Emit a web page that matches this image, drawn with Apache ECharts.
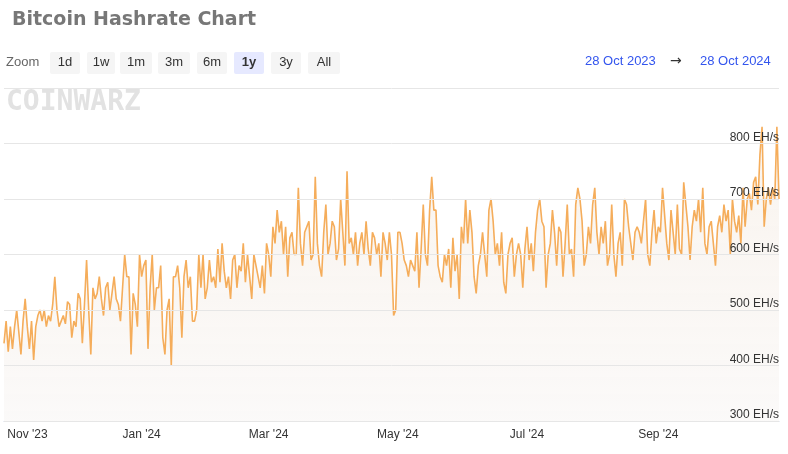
<!DOCTYPE html>
<html>
<head>
<meta charset="utf-8">
<script src="https://cdn.jsdelivr.net/npm/echarts@6/dist/echarts.min.js"></script>
<style>
  html, body { margin: 0; padding: 0; background: #fff; }
  #chart { width: 788px; height: 454px; }
</style>
</head>
<body>
<div id="chart"></div>
<script>
// daily hashrate, EH/s, from 28 Oct 2023
const oct23 = [440, 480, 425, 470];
const nov23 = [430, 470, 500, 460, 420, 480, 520, 470, 430, 480, 410, 470, 490, 500, 480, 500, 470, 490, 480, 510, 560, 500, 470, 480, 490, 475, 515, 510, 450, 480];
const dec23 = [470, 530, 520, 440, 510, 590, 500, 420, 540, 520, 530, 560, 520, 490, 540, 550, 500, 530, 560, 520, 510, 480, 540, 600, 560, 560, 420, 530, 510, 470, 600];
const jan24 = [560, 580, 590, 430, 540, 600, 500, 540, 540, 580, 450, 420, 500, 520, 400, 560, 560, 580, 540, 450, 560, 590, 540, 560, 480, 480, 500, 600, 540, 600, 520];
const feb24 = [540, 590, 550, 560, 540, 610, 550, 620, 570, 540, 560, 520, 590, 600, 540, 580, 570, 620, 550, 600, 560, 520, 600, 580, 560, 540, 580, 530, 620];
const mar24 = [600, 560, 650, 620, 680, 640, 660, 600, 650, 560, 630, 640, 600, 600, 720, 620, 580, 640, 650, 660, 590, 600, 740, 620, 580, 560, 640, 690, 600, 620, 660];
const apr24 = [650, 590, 610, 700, 640, 580, 750, 620, 630, 600, 640, 580, 620, 640, 600, 660, 610, 580, 640, 630, 600, 620, 560, 640, 620, 590, 640, 600, 490, 500];
const may24 = [640, 640, 620, 590, 580, 560, 590, 580, 570, 640, 540, 610, 690, 600, 580, 680, 740, 680, 680, 580, 560, 550, 600, 580, 610, 540, 630, 570, 600, 520, 650];
const jun24 = [620, 700, 620, 680, 640, 560, 530, 580, 600, 640, 600, 560, 680, 700, 660, 600, 620, 580, 640, 550, 530, 600, 620, 630, 560, 600, 620, 600, 540, 610];
const jul24 = [650, 590, 620, 570, 640, 680, 700, 660, 650, 540, 600, 620, 680, 640, 580, 650, 640, 560, 620, 690, 600, 610, 560, 690, 720, 700, 660, 580, 600, 650, 620];
const aug24 = [690, 720, 640, 600, 650, 620, 660, 580, 600, 690, 600, 560, 620, 640, 580, 700, 690, 650, 620, 590, 640, 650, 640, 620, 660, 700, 600, 580, 640, 680, 620];
const sep24 = [650, 640, 720, 670, 620, 590, 680, 640, 600, 690, 610, 600, 730, 690, 650, 590, 650, 680, 660, 700, 640, 720, 620, 600, 650, 660, 620, 580, 650, 670];
const oct24 = [640, 690, 660, 680, 600, 700, 660, 640, 670, 620, 720, 650, 700, 710, 680, 730, 740, 690, 780, 830, 650, 700, 720, 690, 720, 700, 830, 700];

const hashrate = [].concat(oct23, nov23, dec23, jan24, feb24, mar24, apr24, may24, jun24, jul24, aug24, sep24, oct24);
const yTicks = [300, 400, 500, 600, 700, 800];
const zoomButtons = ['1d', '1w', '1m', '3m', '6m', '1y', '3y', 'All'];
const monthNames = ['Jan', 'Feb', 'Mar', 'Apr', 'May', 'Jun', 'Jul', 'Aug', 'Sep', 'Oct', 'Nov', 'Dec'];

const start = new Date(2023, 9, 28);
const seriesData = hashrate.map((v, i) => [new Date(2023, 9, 28 + i).getTime(), v]);
const end = seriesData[seriesData.length - 1][0];

const myChart = echarts.init(document.getElementById('chart'));

// zoom buttons row
const btnX = [50, 87, 120, 158, 197, 234, 271, 308];
const btnW = [30, 28, 32, 32, 30, 30, 30, 32];
const graphics = [
  { type: 'text', x: 6, y: 56, style: { text: 'Zoom', fill: '#666', font: '13px "Liberation Sans", Arial' } }
];
zoomButtons.forEach((b, i) => {
  const active = b === '1y';
  graphics.push({
    type: 'rect', x: btnX[i], y: 52, shape: { width: btnW[i], height: 22, r: 2 },
    style: { fill: active ? '#e6e9ff' : '#f5f5f5' }
  });
  graphics.push({
    type: 'text', x: btnX[i] + btnW[i] / 2, y: 56,
    style: { text: b, fill: '#333', align: 'center', font: (active ? 'bold ' : '') + '13px "Liberation Sans", Arial' }
  });
});
graphics.push(
  { type: 'text', x: 585, y: 55, style: { text: '28 Oct 2023', fill: '#3355ee', font: '13px "Liberation Sans", Arial' } },
  { type: 'text', x: 670, y: 54, style: { text: '\u2192', fill: '#333', font: '14px "DejaVu Sans"' } },
  { type: 'text', x: 700, y: 55, style: { text: '28 Oct 2024', fill: '#3355ee', font: '13px "Liberation Sans", Arial' } },
  { type: 'text', x: 6, y: 89, style: { text: 'COINWARZ', fill: '#e2e2e2', font: 'bold 28px "DejaVu Sans Mono"' } }
);

myChart.setOption({
  animation: false,
  title: {
    text: 'Bitcoin Hashrate Chart', left: 7, top: 6,
    textStyle: { color: '#777', fontSize: 19, fontWeight: 'bold', fontFamily: 'DejaVu Sans' }
  },
  graphic: graphics,
  grid: { left: 4, right: 9, top: 88, bottom: 33, outerBoundsMode: 'none' },
  xAxis: {
    type: 'time',
    min: start.getTime(),
    max: end,
    axisLine: { lineStyle: { color: '#ccd6eb' } },
    axisTick: { show: false },
    splitLine: { show: false },
    axisLabel: {
      color: '#333', fontSize: 12, fontFamily: 'Liberation Sans',
      rich: { first: { padding: [0, 0, 0, 30], fontSize: 12, color: '#333', fontFamily: 'Liberation Sans' } },
      formatter: function (v) {
        const d = new Date(v);
        const m = d.getMonth();
        if (d.getDate() !== 1 || m % 2 !== 0 && m !== 10) return '';
        const s = monthNames[m] + " '" + String(d.getFullYear()).slice(2);
        return m === 10 ? '{first|' + s + '}' : s;
      }
    }
  },
  yAxis: {
    type: 'value', position: 'right', z: 10,
    min: yTicks[0], max: 900, interval: 100,
    axisLine: { show: false },
    axisTick: { show: false },
    splitLine: { lineStyle: { color: '#e6e6e6' } },
    axisLabel: {
      inside: true, verticalAlign: 'bottom', margin: 0,
      color: '#333', fontSize: 12, fontFamily: 'Liberation Sans',
      formatter: v => yTicks.indexOf(v) >= 0 ? v + ' EH/s' : ''
    }
  },
  series: [{
    type: 'line',
    data: seriesData,
    showSymbol: false,
    z: 2,
    lineStyle: { color: '#f5ad5b', width: 1.6 },
    areaStyle: {
      color: new echarts.graphic.LinearGradient(0, 0, 0, 1, [
        { offset: 0, color: 'rgba(240,225,210,0.5)' },
        { offset: 1, color: 'rgba(245,242,240,0.6)' }
      ])
    }
  }]
});
</script>
</body>
</html>
